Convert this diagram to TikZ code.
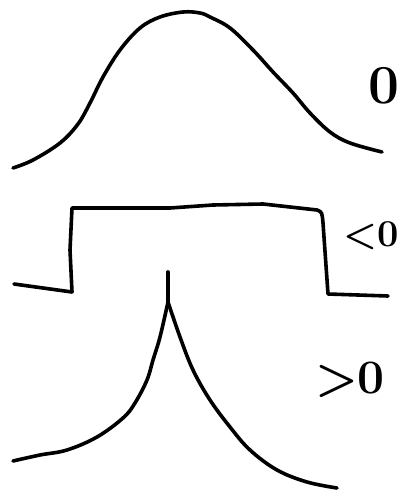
\documentclass[tikz,border=0pt]{standalone}
\usepackage{fontspec}
\setmainfont{Latin Modern Roman}
\begin{document}
\begin{tikzpicture}[x=1pt,y=-1pt,
  pen/.style={line width=3.6pt,line cap=round,line join=round},
  lbl/.style={inner sep=0pt,anchor=center,font=\bfseries}]
\useasboundingbox (0,0) rectangle (401,492);
% Gaussian (zero excess kurtosis)
\draw[pen] plot[smooth,tension=0.6] coordinates {(13,168) (33,160) (60,143) (78,124) (90,103) (103,77) (120,50) (140,28) (160,17) (183,12) (200,13) (210,17) (230,28) (253,50) (273,72) (293,93) (310,113) (330,132) (350,143) (382,152)};
\node[lbl] (g) at (384,86) {\fontsize{55}{60}\selectfont 0};
% box (negative)
\draw[pen] (14,284) -- (72,292) -- (70,250) -- (72,208) -- (170,208) -- (213,205) -- (263,204) -- (317,210) .. controls (322,212) .. (323,223) -- (328,294) -- (388,296);
\node[lbl] (b) at (371,236) {\fontsize{38}{42}\selectfont <0};
% cusp (positive)
\draw[pen] (168,272) -- (168,302);
\draw[pen] plot[smooth,tension=0.6] coordinates {(13,461) (40,455) (67,450) (97,437) (123,418) (135,403) (147,380) (153,360) (160,337) (168,302)};
\draw[pen] plot[smooth,tension=0.6] coordinates {(168,302) (180,337) (193,370) (210,400) (230,427) (250,450) (277,470) (307,482) (337,488)};
\node[lbl] (c) at (350,380) {\fontsize{48}{50}\selectfont >0};
\end{tikzpicture}
\end{document}
